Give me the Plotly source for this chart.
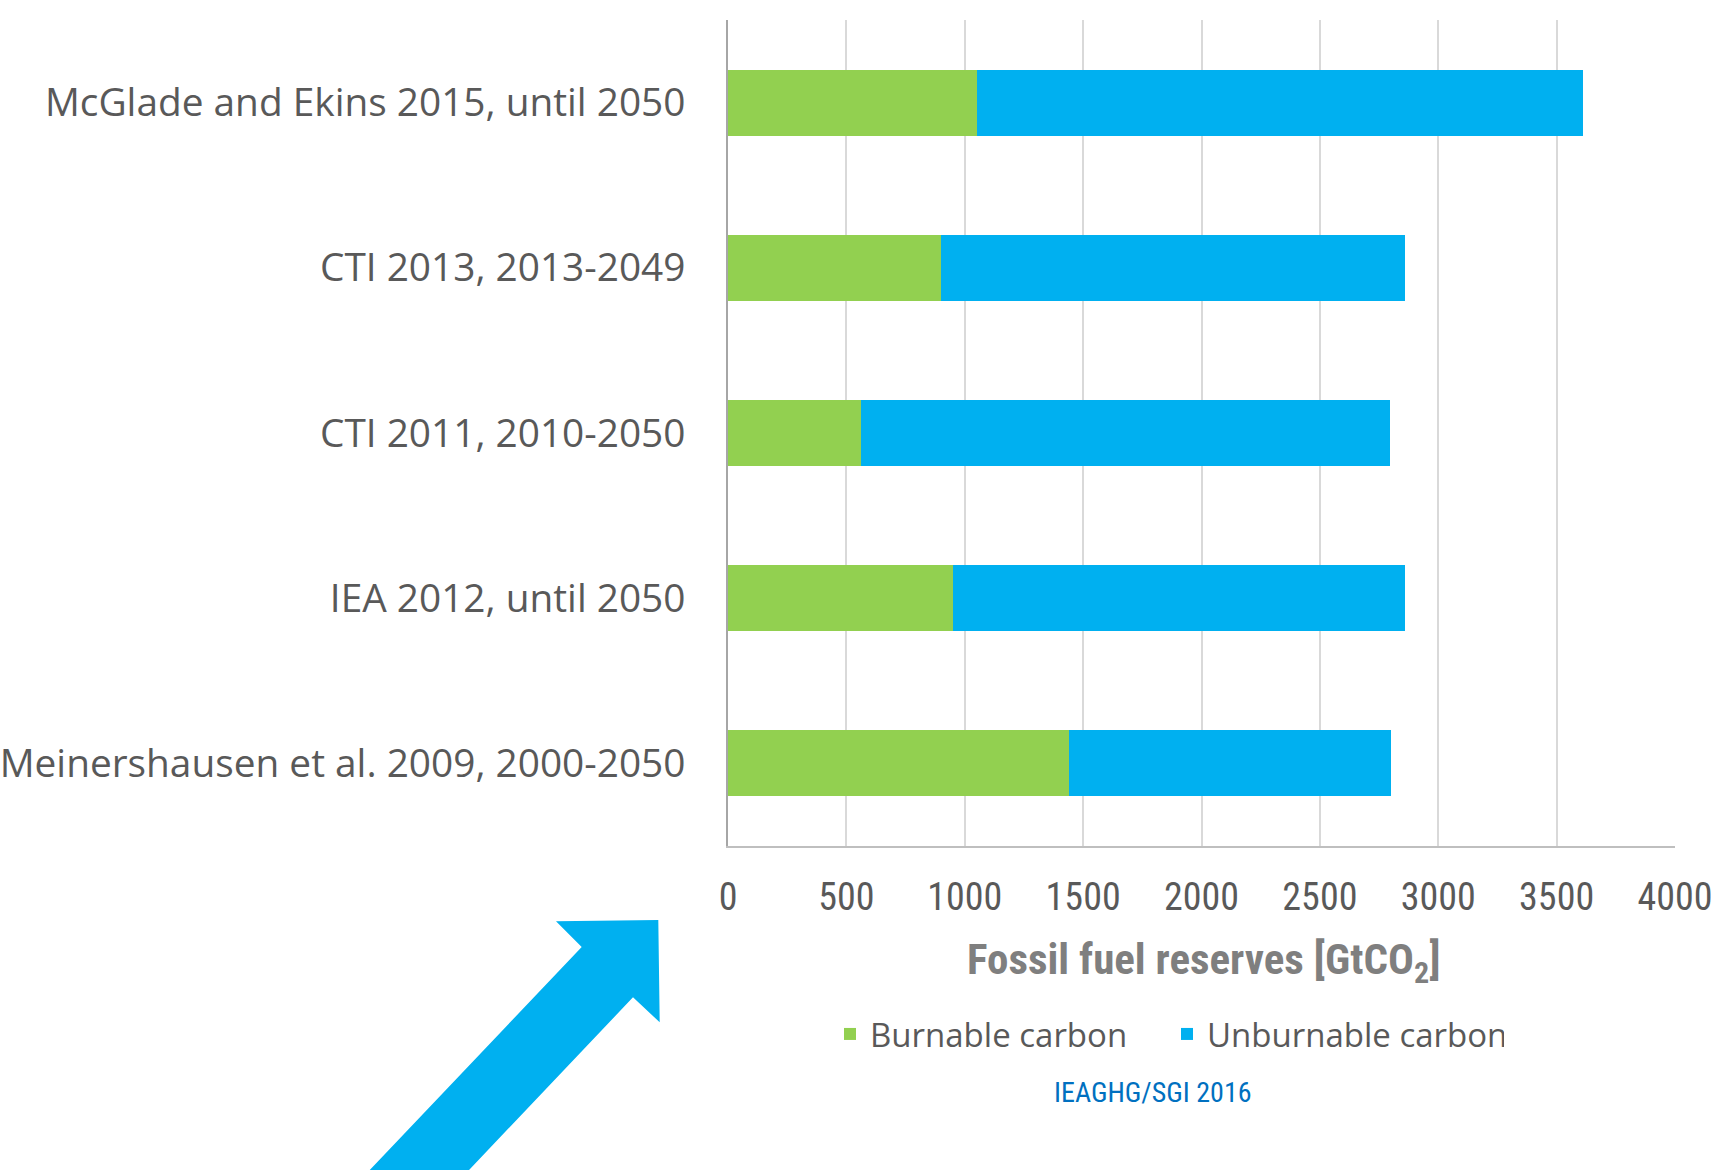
import plotly.graph_objects as go

categories = [
    "Meinershausen et al. 2009, 2000-2050",
    "IEA 2012, until 2050",
    "CTI 2011, 2010-2050",
    "CTI 2013, 2013-2049",
    "McGlade and Ekins 2015, until 2050",
]
burnable = [1440, 950, 560, 900, 1050]
unburnable = [1360, 1910, 2235, 1960, 2560]
x_ticks = [0, 500, 1000, 1500, 2000, 2500, 3000, 3500, 4000]

W, H = 1717, 1170
L, R, T, B = 728, 1675, 20, 846
GREEN = "#92D050"
BLUE = "#00B0F0"
NARROW = "Liberation Sans Narrow, Roboto Condensed, Open Sans"


def px(x):
    return (x - L) / (R - L)


def py(y):
    return (B - y) / (B - T)


fig = go.Figure()
fig.add_trace(go.Bar(y=categories, x=burnable, name="Burnable carbon", orientation="h",
                     marker=dict(color=GREEN, line=dict(width=0)), width=0.4))
fig.add_trace(go.Bar(y=categories, x=unburnable, name="Unburnable carbon", orientation="h",
                     marker=dict(color=BLUE, line=dict(width=0)), width=0.4))

arrow_pts = [(365, 1175), (581.7, 947), (556, 921.3), (658.3, 920), (659.7, 1022.3),
             (633, 997.3), (464.3, 1175)]
path = "M " + " L ".join(f"{px(a):.5f},{py(b):.5f}" for a, b in arrow_pts) + " Z"

fig.update_layout(
    width=W, height=H,
    margin=dict(l=L, r=W - R, t=T, b=H - B, autoexpand=False),
    barmode="stack",
    plot_bgcolor="white", paper_bgcolor="white",
    font=dict(family="Open Sans", color="#595959"),
    xaxis=dict(range=[0, 4000], tickvals=x_ticks, showgrid=True, gridcolor="#d9d9d9", gridwidth=1.5,
               zeroline=False, showline=True, linecolor="#bfbfbf", linewidth=1.5,
               ticks="", ticklabelstandoff=17, automargin=False,
               tickfont=dict(family=NARROW, size=38, color="#595959")),
    yaxis=dict(showgrid=False, showline=True, linecolor="#a6a6a6", linewidth=1.5, ticks="",
               ticklabelstandoff=33, range=[-0.5, 4.5], automargin=False,
               tickfont=dict(family="Open Sans", size=38.8, color="#595959")),
    legend=dict(orientation="h", x=px(830), y=py(1006), xanchor="left", yanchor="top",
                font=dict(family="Open Sans", size=33, color="#595959"),
                itemwidth=30, entrywidth=292, traceorder="normal", bgcolor="rgba(0,0,0,0)"),
    shapes=[dict(type="path", path=path, xref="paper", yref="paper",
                 fillcolor=BLUE, line=dict(width=0), layer="above")],
    annotations=[
        dict(text="<b>Fossil fuel reserves [GtCO<sub>2</sub>]</b>", x=px(1204), y=py(962),
             xref="paper", yref="paper", showarrow=False, xanchor="center", yanchor="middle",
             font=dict(family=NARROW, size=43, color="#7f7f7f")),
        dict(text="IEAGHG/SGI 2016", x=px(1153), y=py(1092), xref="paper", yref="paper",
             showarrow=False, xanchor="center", yanchor="middle",
             font=dict(family=NARROW, size=28, color="#0070C0")),
    ],
)

fig.write_html("out.html")
